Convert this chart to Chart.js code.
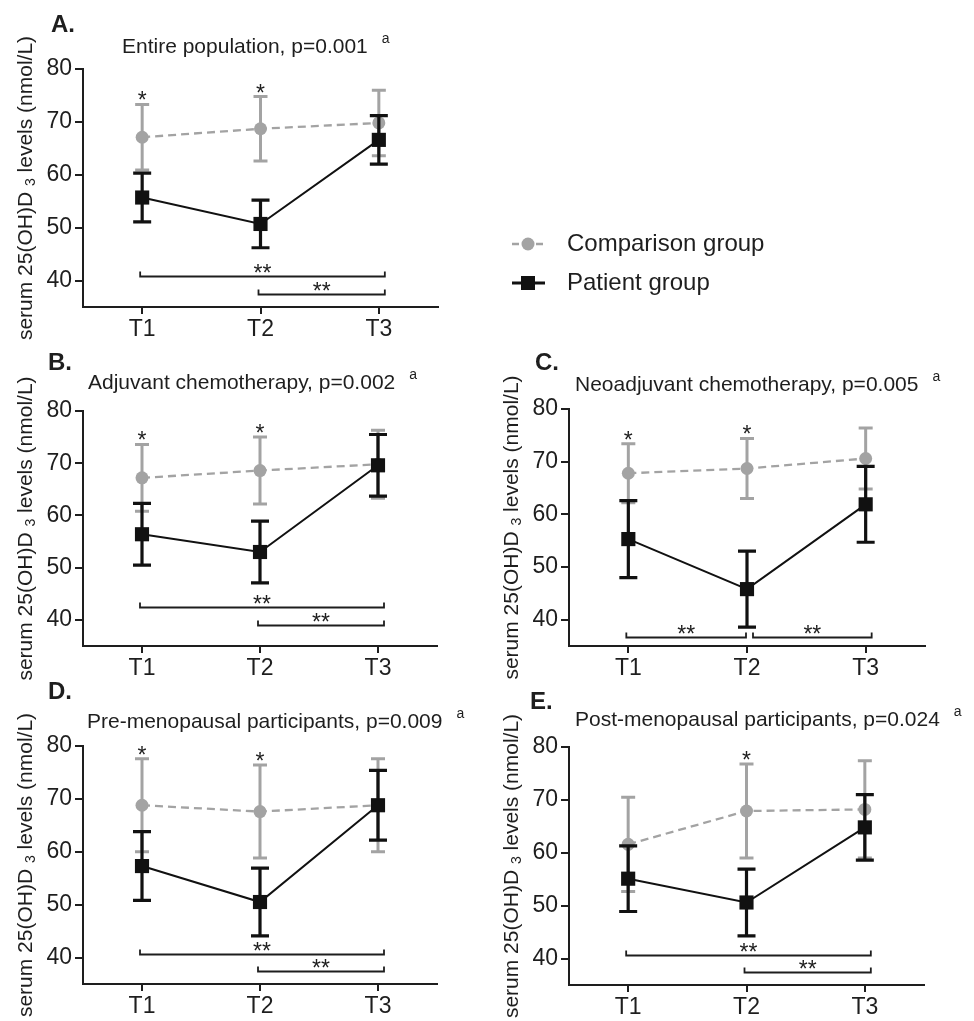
<!DOCTYPE html>
<html>
<head>
<meta charset="utf-8">
<script src="https://cdn.jsdelivr.net/npm/chart.js@4.4.0/dist/chart.umd.min.js"></script>
<style>
  body { margin: 0; background: #fff; }
  #wrap { position: relative; width: 974px; height: 1021px; overflow: hidden; }
  canvas { position: absolute; }
</style>
</head>
<body>
<div id="wrap">
  <canvas id="chartA" width="974" height="343" style="left:0;top:0"></canvas>
  <canvas id="chartB" width="487" height="352" style="left:0;top:330px"></canvas>
  <canvas id="chartC" width="487" height="352" style="left:487px;top:330px"></canvas>
  <canvas id="chartD" width="487" height="351" style="left:0;top:670px"></canvas>
  <canvas id="chartE" width="487" height="351" style="left:487px;top:670px"></canvas>
</div>
<script>
const categories = ['T1', 'T2', 'T3'];
const yTicks = [40, 50, 60, 70, 80];
const seriesNames = ['Comparison group', 'Patient group'];

// A. entire population
const compMeanA = [67.1, 68.7, 69.8];
const compErrA = [6.2, 6.1, 6.2];
const patMeanA = [55.7, 50.7, 66.6];
const patErrA = [4.6, 4.5, 4.6];
const starsA = ['*', '*', ''];
const bracketsA = [{ from: 0, to: 2, level: 40.8 }, { from: 1, to: 2, level: 37.5 }];

// B. adjuvant chemotherapy
const compMeanB = [67.2, 68.6, 69.8];
const compErrB = [6.4, 6.4, 6.5];
const patMeanB = [56.4, 53.0, 69.6];
const patErrB = [5.9, 5.9, 5.9];
const starsB = ['*', '*', ''];
const bracketsB = [{ from: 0, to: 2, level: 42.5 }, { from: 1, to: 2, level: 39.0 }];

// C. neoadjuvant chemotherapy
const compMeanC = [67.8, 68.7, 70.6];
const compErrC = [5.6, 5.7, 5.8];
const patMeanC = [55.3, 45.8, 61.9];
const patErrC = [7.3, 7.2, 7.2];
const starsC = ['*', '*', ''];
const bracketsC = [{ from: 0, to: 1, level: 36.7 }, { from: 1, to: 2, level: 36.7 }];

// D. pre-menopausal
const compMeanD = [68.8, 67.6, 68.8];
const compErrD = [8.8, 8.8, 8.8];
const patMeanD = [57.3, 50.5, 68.8];
const patErrD = [6.5, 6.4, 6.6];
const starsD = ['*', '*', ''];
const bracketsD = [{ from: 0, to: 2, level: 40.6 }, { from: 1, to: 2, level: 37.4 }];

// E. post-menopausal
const compMeanE = [61.6, 67.9, 68.2];
const compErrE = [8.9, 8.9, 9.2];
const patMeanE = [55.1, 50.6, 64.8];
const patErrE = [6.2, 6.3, 6.2];
const starsE = ['', '*', ''];
const bracketsE = [{ from: 0, to: 2, level: 40.6 }, { from: 1, to: 2, level: 37.4 }];

const FONT = 'Arial, "Liberation Sans", Helvetica, sans-serif';
const GRAY = '#a3a3a3';
const BLACK = '#111111';
const TEXT = '#1e1e1e';

// canvas-relative chart areas and label offsets
const panels = {
  chartA: { letter: 'A.', title: 'Entire population, p=0.001', chart: [83, 69, 438, 307], titleDx: 39, titleDy: 22, letterDx: -32, letterDy: 44,
            compMean: compMeanA, compErr: compErrA, patMean: patMeanA, patErr: patErrA, stars: starsA, brackets: bracketsA, legend: true },
  chartB: { letter: 'B.', title: 'Adjuvant chemotherapy, p=0.002', chart: [83, 81, 437, 316], titleDx: 5, titleDy: 28, letterDx: -35, letterDy: 48,
            compMean: compMeanB, compErr: compErrB, patMean: patMeanB, patErr: patErrB, stars: starsB, brackets: bracketsB },
  chartC: { letter: 'C.', title: 'Neoadjuvant chemotherapy, p=0.005', chart: [82, 79, 438, 316], titleDx: 6, titleDy: 24, letterDx: -34, letterDy: 46,
            compMean: compMeanC, compErr: compErrC, patMean: patMeanC, patErr: patErrC, stars: starsC, brackets: bracketsC },
  chartD: { letter: 'D.', title: 'Pre-menopausal participants, p=0.009', chart: [83, 76, 437, 314], titleDx: 4, titleDy: 24, letterDx: -35, letterDy: 54,
            compMean: compMeanD, compErr: compErrD, patMean: patMeanD, patErr: patErrD, stars: starsD, brackets: bracketsD },
  chartE: { letter: 'E.', title: 'Post-menopausal participants, p=0.024', chart: [82, 77, 437, 315], titleDx: 6, titleDy: 27, letterDx: -39, letterDy: 45,
            compMean: compMeanE, compErr: compErrE, patMean: patMeanE, patErr: patErrE, stars: starsE, brackets: bracketsE }
};

const panelExtras = {
  id: 'panelExtras',
  beforeDatasetDraw(chart, args) {
    // error bars go under their own series
    const ds = chart.data.datasets[args.index];
    const y = chart.scales.y;
    const ctx = chart.ctx;
    ctx.save();
    ctx.strokeStyle = ds.borderColor;
    ctx.lineWidth = ds.errWidth;
    ctx.setLineDash([]);
    args.meta.data.forEach((pt, i) => {
      const hi = y.getPixelForValue(ds.data[i] + ds.err[i]);
      const lo = y.getPixelForValue(ds.data[i] - ds.err[i]);
      ctx.beginPath();
      ctx.moveTo(pt.x, hi); ctx.lineTo(pt.x, lo);
      ctx.moveTo(pt.x - ds.capHalf, hi); ctx.lineTo(pt.x + ds.capHalf, hi);
      ctx.moveTo(pt.x - ds.capHalf, lo); ctx.lineTo(pt.x + ds.capHalf, lo);
      ctx.stroke();
    });
    ctx.restore();
  },
  afterDraw(chart) {
    const p = panels[chart.canvas.id];
    const ctx = chart.ctx;
    const area = chart.chartArea;
    const x = chart.scales.x, y = chart.scales.y;
    ctx.save();
    ctx.fillStyle = TEXT;
    ctx.strokeStyle = TEXT;

    // panel letter
    ctx.font = 'bold 24px ' + FONT;
    ctx.textAlign = 'left';
    ctx.textBaseline = 'middle';
    ctx.fillText(p.letter, area.left + p.letterDx, area.top - p.letterDy);

    // title + superscript
    ctx.font = '21px ' + FONT;
    const tx = area.left + p.titleDx, ty = area.top - p.titleDy;
    ctx.fillText(p.title, tx, ty);
    const tw = ctx.measureText(p.title).width;
    ctx.font = '14px ' + FONT;
    ctx.fillText('a', tx + tw + 14, ty - 8);

    // y axis title with subscript
    ctx.save();
    ctx.translate(area.left - 57, (area.top + area.bottom) / 2);
    ctx.rotate(-Math.PI / 2);
    const big = '21px ' + FONT, small = '14px ' + FONT;
    const parts = [['serum 25(OH)D ', big, 0], ['3', small, 5], [' levels (nmol/L)', big, 0]];
    let total = 0;
    parts.forEach(pt => { ctx.font = pt[1]; total += ctx.measureText(pt[0]).width; });
    let cx = -total / 2;
    ctx.textBaseline = 'middle';
    parts.forEach(pt => {
      ctx.font = pt[1];
      ctx.fillText(pt[0], cx, pt[2]);
      cx += ctx.measureText(pt[0]).width;
    });
    ctx.restore();

    // stars above the higher error bar
    ctx.font = '23px ' + FONT;
    ctx.textAlign = 'center';
    ctx.textBaseline = 'alphabetic';
    p.stars.forEach((s, i) => {
      if (!s) return;
      const top = Math.max(p.compMean[i] + p.compErr[i], p.patMean[i] + p.patErr[i]);
      ctx.fillText(s, x.getPixelForValue(i), y.getPixelForValue(top) + 4);
    });

    // significance brackets
    ctx.lineWidth = 1.8;
    p.brackets.forEach(b => {
      let x1 = x.getPixelForValue(b.from) - 2;
      let x2 = x.getPixelForValue(b.to) + 6;
      if (p.brackets.some(o => o !== b && o.level === b.level && o.from === b.to)) x2 = x.getPixelForValue(b.to) - 1;
      if (p.brackets.some(o => o !== b && o.level === b.level && o.to === b.from)) x1 = x.getPixelForValue(b.from) + 6;
      const by = Math.round(y.getPixelForValue(b.level)) + 0.5;
      ctx.beginPath();
      ctx.moveTo(x1, by - 5); ctx.lineTo(x1, by); ctx.lineTo(x2, by); ctx.lineTo(x2, by - 5);
      ctx.stroke();
      ctx.fillText('**', (x1 + x2) / 2, by + 4);
    });

    // legend (only once, beside panel A)
    if (p.legend) {
      const ds = chart.data.datasets;
      const rows = [244, 283];
      ds.forEach((d, i) => {
        const ly = rows[i];
        ctx.save();
        ctx.strokeStyle = d.borderColor;
        ctx.fillStyle = d.borderColor;
        ctx.lineWidth = i === 0 ? 2.3 : 3;
        ctx.setLineDash(i === 0 ? [7, 5] : []);
        ctx.beginPath();
        ctx.moveTo(512, ly); ctx.lineTo(545, ly);
        ctx.stroke();
        ctx.setLineDash([]);
        if (d.pointStyle === 'rect') {
          ctx.fillRect(521, ly - 7, 14, 14);
        } else {
          ctx.beginPath();
          ctx.arc(528, ly, 6.5, 0, Math.PI * 2);
          ctx.fill();
        }
        ctx.restore();
        ctx.font = '24px ' + FONT;
        ctx.textAlign = 'left';
        ctx.textBaseline = 'middle';
        ctx.fillText(d.label, 567, ly);
      });
    }
    ctx.restore();
  }
};

function buildPanel(id) {
  const canvas = document.getElementById(id);
  const p = panels[id];
  const W = canvas.width, H = canvas.height;
  const [cl, ct, cr, cb] = p.chart;
  return new Chart(canvas.getContext('2d'), {
    type: 'line',
    data: {
      labels: categories,
      datasets: [{
        label: seriesNames[0],
        data: p.compMean,
        err: p.compErr,
        borderColor: GRAY,
        backgroundColor: GRAY,
        borderWidth: 2.3,
        borderDash: [8, 5],
        pointStyle: 'circle',
        pointRadius: 6.5,
        pointBackgroundColor: GRAY,
        pointBorderColor: GRAY,
        pointBorderWidth: 0,
        errWidth: 3,
        capHalf: 7,
        tension: 0,
        order: 2
      }, {
        label: seriesNames[1],
        data: p.patMean,
        err: p.patErr,
        borderColor: BLACK,
        backgroundColor: BLACK,
        borderWidth: 2,
        pointStyle: 'rect',
        pointRadius: 10,
        pointBackgroundColor: BLACK,
        pointBorderColor: BLACK,
        pointBorderWidth: 0,
        errWidth: 3.2,
        capHalf: 9,
        tension: 0,
        order: 1
      }]
    },
    options: {
      responsive: false,
      animation: false,
      events: [],
      layout: { padding: { left: 0, top: ct, right: W - cr, bottom: 0 } },
      plugins: {
        legend: { display: false },
        tooltip: { enabled: false }
      },
      scales: {
        x: {
          type: 'category',
          offset: true,
          afterFit: s => { s.height = H - cb; },
          ticks: { font: { size: 23, family: FONT }, color: TEXT, padding: 2, maxRotation: 0 },
          grid: { drawOnChartArea: false, tickLength: 7, color: TEXT, lineWidth: 2 },
          border: { color: TEXT, width: 2 }
        },
        y: {
          type: 'linear',
          min: 35,
          max: 80,
          afterBuildTicks: s => { s.ticks = yTicks.map(v => ({ value: v })); },
          afterFit: s => { s.width = cl; },
          ticks: { font: { size: 23, family: FONT }, color: TEXT, padding: 3 },
          grid: { drawOnChartArea: false, tickLength: 8, color: TEXT, lineWidth: 2 },
          border: { color: TEXT, width: 2 }
        }
      }
    },
    plugins: [panelExtras]
  });
}

document.addEventListener('DOMContentLoaded', function() {
  Object.keys(panels).forEach(buildPanel);
});
</script>
</body>
</html>
